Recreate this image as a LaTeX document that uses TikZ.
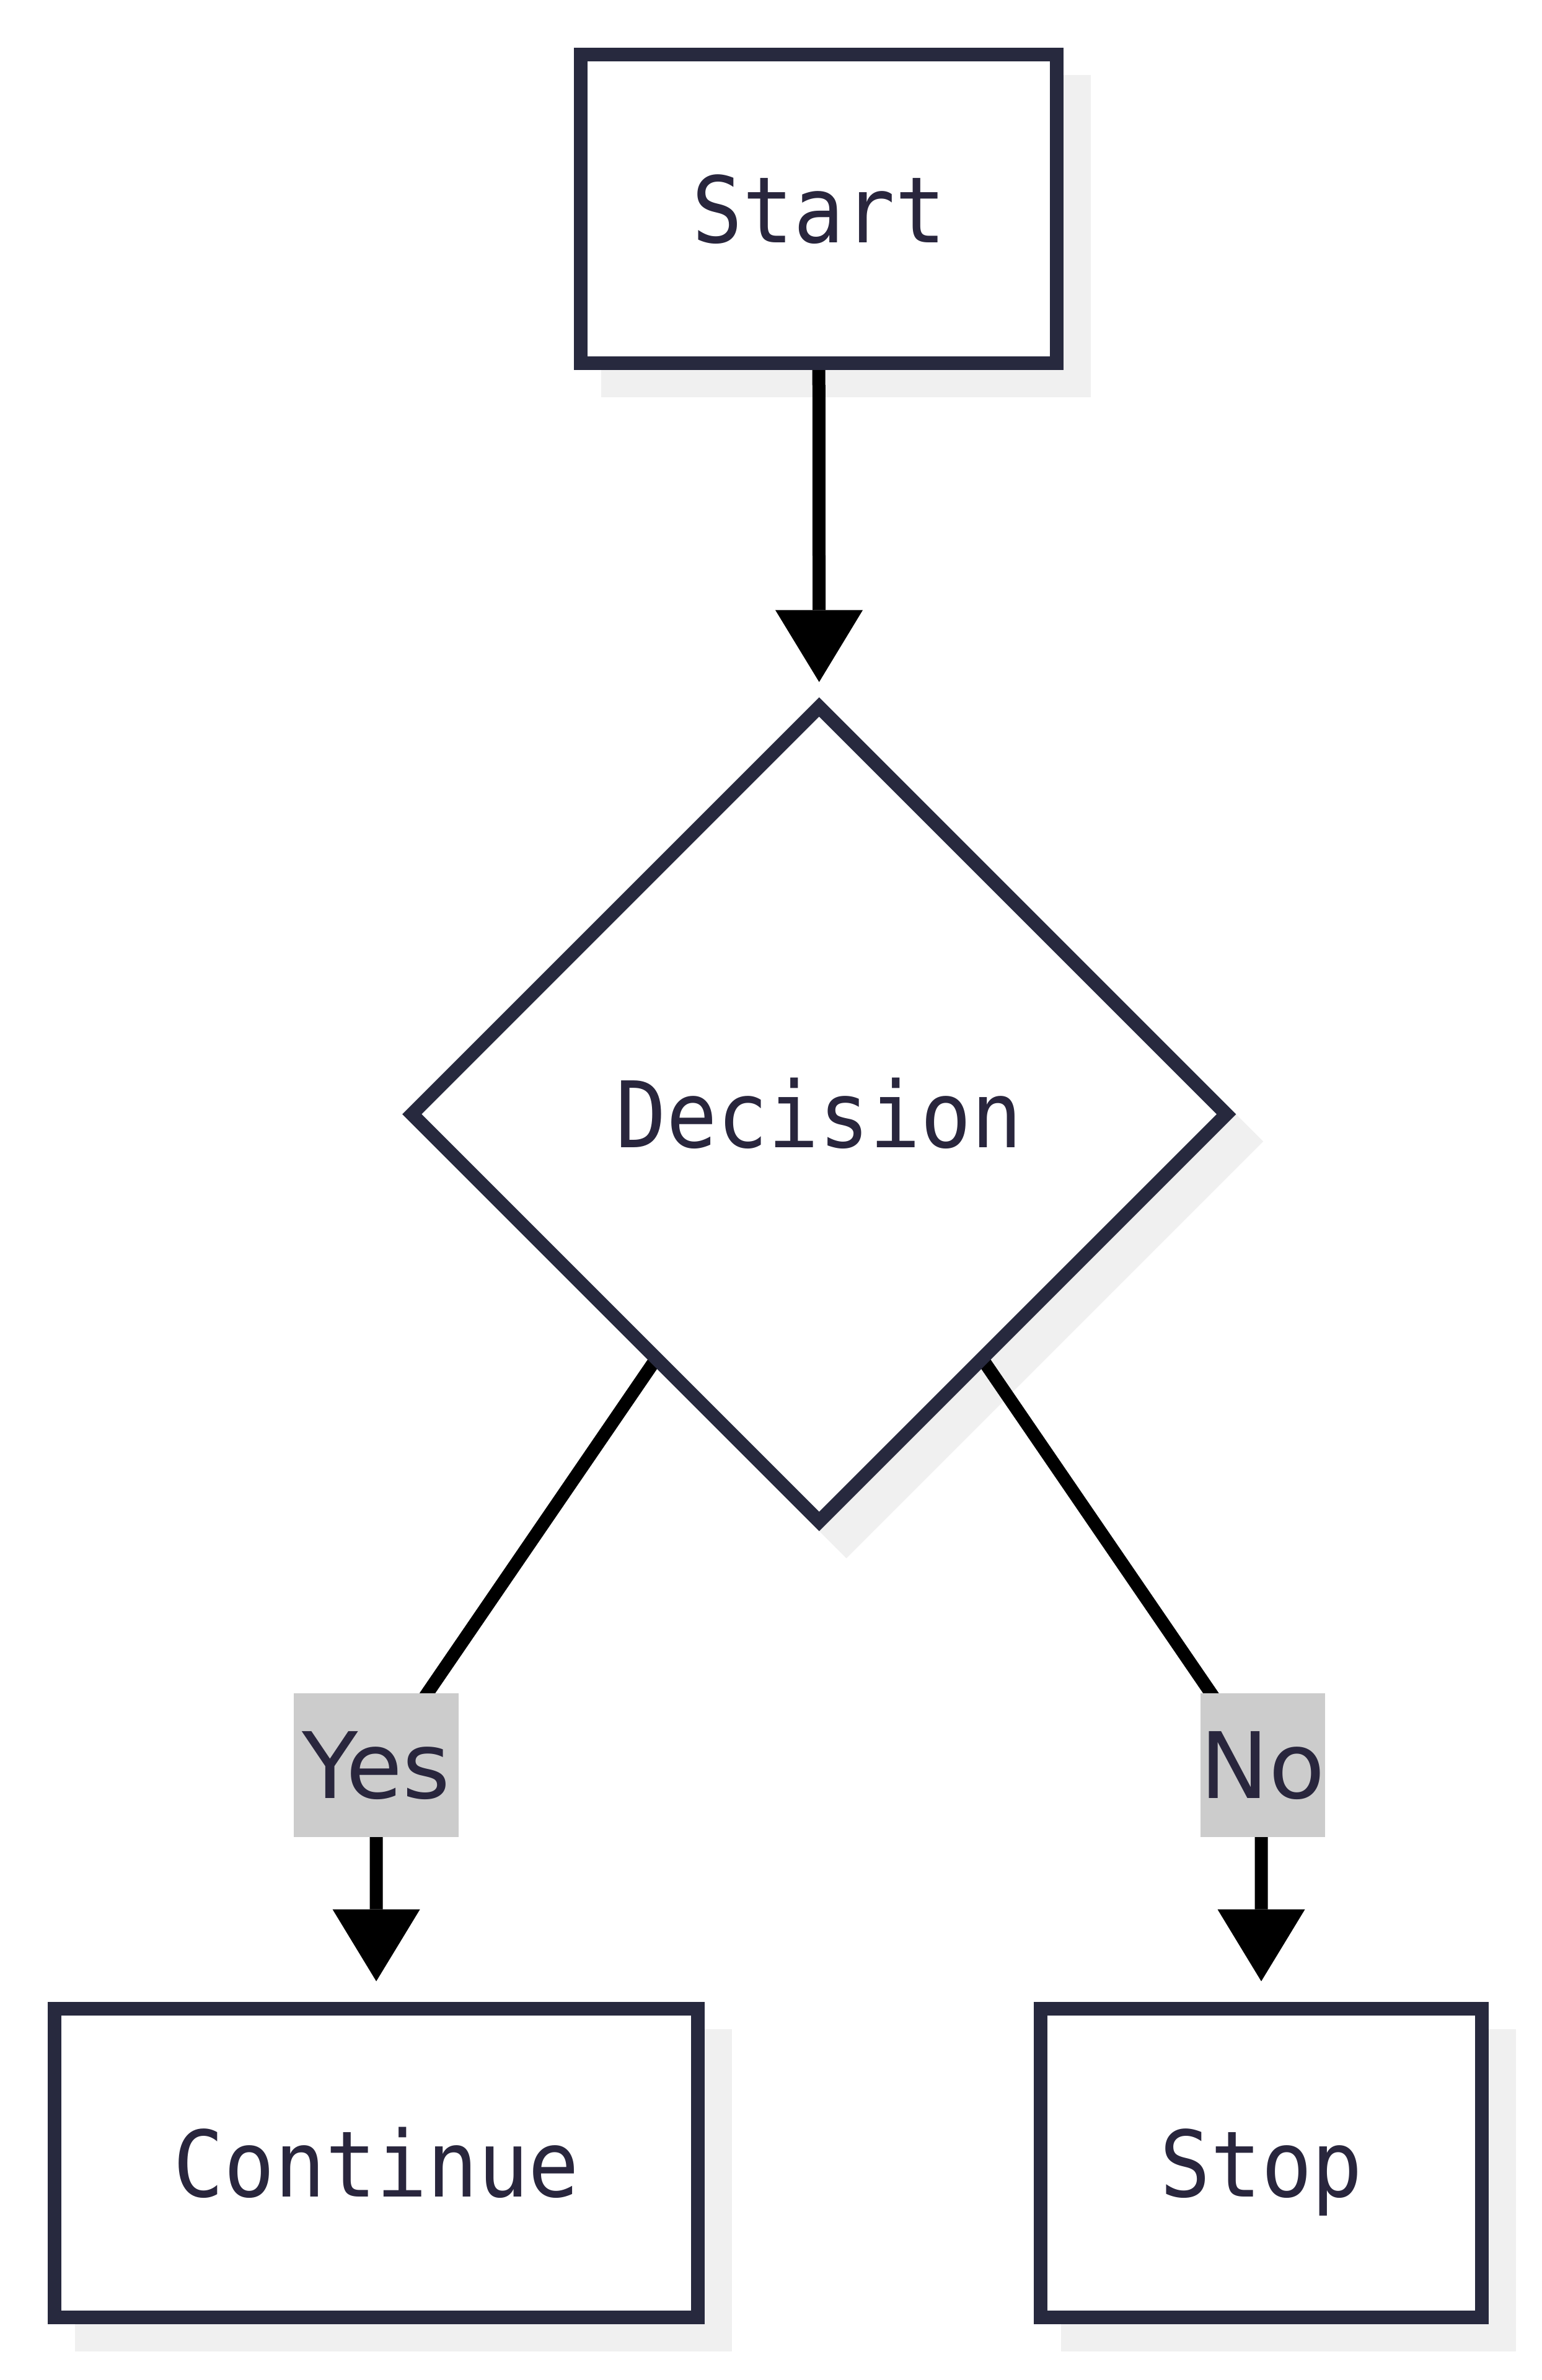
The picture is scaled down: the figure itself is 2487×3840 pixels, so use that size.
\documentclass[tikz,border=0pt]{standalone}
\usepackage{fontspec}
\setmainfont{DejaVu Sans}
\newfontfamily\monofam[FakeStretch=0.92]{DejaVu Sans Mono}
\usetikzlibrary{shapes.geometric,arrows.meta,calc}
\definecolor{bordc}{RGB}{39,41,62}
\definecolor{txtc}{RGB}{41,38,61}
\definecolor{shadc}{RGB}{240,240,240}
\definecolor{lblc}{RGB}{204,204,204}
\pgfdeclarelayer{shadowlayer}
\pgfdeclarelayer{edgelayer}
\pgfsetlayers{shadowlayer,edgelayer,main}
\tikzset{
  procbox/.style={rectangle, draw=bordc, line width=22pt, fill=white,
    inner sep=0pt, outer sep=0pt, text=txtc,
    font=\monofam\fontsize{148}{178}\selectfont,
    text height=107.9pt, text depth=0pt, minimum height=498.3pt},
  decbox/.style={diamond, draw=bordc, line width=22pt, fill=white,
    inner sep=0pt, outer sep=0pt, text=txtc,
    font=\monofam\fontsize{148}{178}\selectfont,
    text height=107.9pt, text depth=0pt,
    minimum width=1314pt, minimum height=1314pt},
  flow/.style={draw=black, line width=21pt,
    -{Triangle[width=141pt,length=116pt,line width=0pt]}},
  edgelbl/.style={rectangle, fill=lblc, text=txtc, inner sep=0pt,
    font=\fontsize{148}{178}\selectfont,
    text height=107.9pt, text depth=0pt, minimum height=232.4pt}
}
\begin{document}
\begin{tikzpicture}[x=1pt,y=-1pt]
\useasboundingbox (0,0) rectangle (2487,3840);

% nodes
\node[procbox, minimum width=768.3pt] (start) at (1321.2,337.3) {Start};
\node[decbox] (dec) at (1321.7,1797.7) {Decision};
\node[procbox, minimum width=1037.6pt] (cont) at (607.1,3490.2) {Continue};
\node[procbox, minimum width=711.4pt] (stop) at (2035,3490.2) {Stop};

% shadows
\begin{pgfonlayer}{shadowlayer}
  \fill[shadc] ($(start.north west)+(33,33)$) rectangle ($(start.south east)+(55,55)$);
  \fill[shadc] ($(cont.north west)+(33,33)$) rectangle ($(cont.south east)+(55,55)$);
  \fill[shadc] ($(stop.north west)+(33,33)$) rectangle ($(stop.south east)+(55,55)$);
  \fill[shadc] ($(dec.center)+(44,-628.5)$) -- ($(dec.center)+(716.5,44)$)
     -- ($(dec.center)+(44,716.5)$) -- ($(dec.center)+(-628.5,44)$) -- cycle;
\end{pgfonlayer}

% connector points
\coordinate (ys) at ($(dec.west)!0.6!(dec.south)$);
\coordinate (ns) at ($(dec.east)!0.6!(dec.south)$);
\coordinate (yb) at (689.7,2731.6);
\coordinate (nb) at (1953.7,2731.6);
\coordinate (yv) at ($(cont.north)+(0,-281)$);
\coordinate (nv) at ($(stop.north)+(0,-281)$);

% edges
\begin{pgfonlayer}{edgelayer}
  \draw[flow, shorten >=40.3pt] (start.south) -- (dec.north);
  \draw[flow, shorten >=44.4pt] (ys) -- (yb)
     .. controls (642.3,2801.6) and (607.1,2890) .. (yv) -- (cont.north);
  \draw[flow, shorten >=44.4pt] (ns) -- (nb)
     .. controls (2001.1,2801.6) and (2035,2890) .. (nv) -- (stop.north);
\end{pgfonlayer}

% edge labels
\node[edgelbl, minimum width=265.7pt] (ylbl) at (606.9,2847.8) {Yes};
\node[edgelbl, minimum width=199pt] (nlbl) at (2037.5,2847.8) {No};
\end{tikzpicture}
\end{document}
